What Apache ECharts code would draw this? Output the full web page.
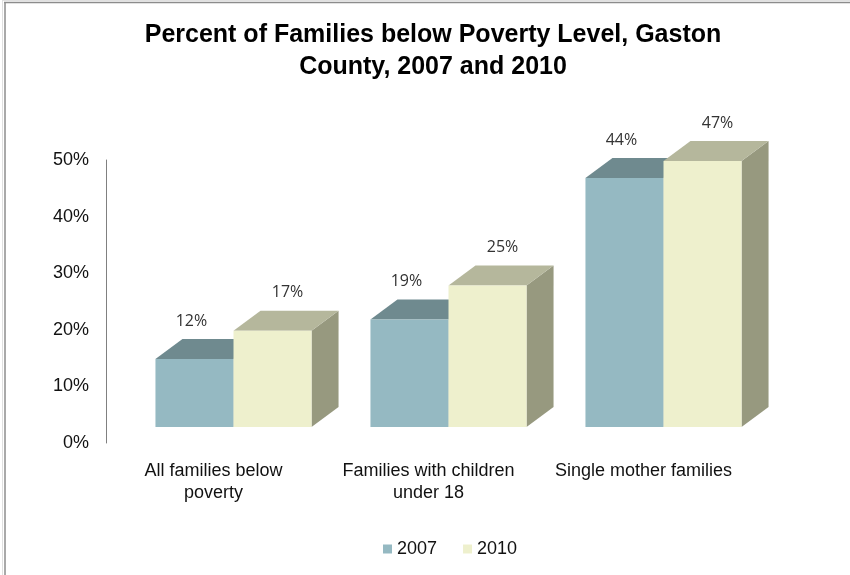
<!DOCTYPE html>
<html>
<head>
<meta charset="utf-8">
<script src="https://cdn.jsdelivr.net/npm/echarts@6/dist/echarts.min.js"></script>
<style>html,body{margin:0;padding:0;background:#fff;}#main{width:850px;height:575px;}</style>
</head>
<body>
<div id="main"></div>
<script>
// ---- data ----
const categories = ["All families below\npoverty", "Families with children\nunder 18", "Single mother families"];
const years = ["2007", "2010"];
const values2007 = [12, 19, 44];
const values2010 = [17, 25, 47];
const yTicks = [0, 10, 20, 30, 40, 50];

// ---- style ----
const COLORS = {
  "2007": { front: "#95B9C2", top: "#6F8A8F", side: "#7A979E" },
  "2010": { front: "#EEF0CD", top: "#B5B79C", side: "#97997F" }
};
const SHIFT_X = 20, SHIFT_Y = -16;   // 3D projection offset of the bar floor
const DEPTH_X = 27, DEPTH_Y = 20;    // bar depth
const BAR_RATIO = 0.363;             // bar width / category band
const LABEL_DX = [-3, 15];
const LABEL_DY = 38;

function makeRender(si) {
  const c = COLORS[years[si]];
  return function (params, api) {
    const cat = api.value(0), v = api.value(1);
    const base = api.coord([cat, 0]);
    const top = api.coord([cat, v]);
    const bw = api.size([1, 0])[0] * BAR_RATIO;
    const cx = base[0] + SHIFT_X;
    const x0 = si === 0 ? cx - bw : cx;
    const x1 = x0 + bw;
    const yb = base[1] + SHIFT_Y;
    const yt = top[1] + SHIFT_Y;
    return {
      type: 'group',
      children: [
        { type: 'polygon', shape: { points: [[x1, yt], [x1 + DEPTH_X, yt - DEPTH_Y], [x1 + DEPTH_X, yb - DEPTH_Y], [x1, yb]] }, style: { fill: c.side } },
        { type: 'polygon', shape: { points: [[x0, yt], [x0 + DEPTH_X, yt - DEPTH_Y], [x1 + DEPTH_X, yt - DEPTH_Y], [x1, yt]] }, style: { fill: c.top } },
        { type: 'rect', shape: { x: x0, y: yt, width: bw, height: yb - yt }, style: { fill: c.front } },
        { type: 'text', style: { x: (x0 + x1) / 2 + LABEL_DX[si], y: yt - LABEL_DY, text: v + '%', fill: '#333', font: '16px "Open Sans"', align: 'center', verticalAlign: 'middle' } }
      ]
    };
  };
}

const chart = echarts.init(document.getElementById('main'), null, { renderer: 'canvas' });
chart.setOption({
  animation: false,
  backgroundColor: '#fff',
  title: {
    text: 'Percent of Families below Poverty Level, Gaston\nCounty, 2007 and 2010',
    left: 433, top: 19, padding: 0, textAlign: 'center',
    textStyle: { fontFamily: 'Liberation Sans', fontSize: 25, fontWeight: 'bold', color: '#000', lineHeight: 32 }
  },
  legend: {
    data: years, left: 383, top: 540, padding: 0, itemWidth: 9, itemHeight: 9, itemGap: 26, icon: 'rect',
    textStyle: { fontFamily: 'Liberation Sans', fontSize: 18, color: '#111' }
  },
  grid: { left: 106, top: 160, width: 645, height: 283, containLabel: false },
  xAxis: {
    type: 'category', data: categories,
    axisLine: { show: false }, axisTick: { show: false },
    axisLabel: { margin: 17, fontFamily: 'Liberation Sans', fontSize: 18, color: '#111', lineHeight: 22, interval: 0 }
  },
  yAxis: {
    type: 'value', min: 0, max: 50, interval: 10,
    axisLine: { show: true, lineStyle: { color: '#808080', width: 1 } },
    axisTick: { show: false }, splitLine: { show: false },
    axisLabel: { margin: 17, fontFamily: 'Liberation Sans', fontSize: 18, color: '#111', formatter: v => v + '%' }
  },
  graphic: [
    { type: 'line', shape: { x1: 2, y1: 0.5, x2: 850, y2: 0.5 }, style: { stroke: '#E0E0E0', lineWidth: 1 } },
    { type: 'line', shape: { x1: 2.5, y1: 1, x2: 2.5, y2: 575 }, style: { stroke: '#E0E0E0', lineWidth: 1 } },
    { type: 'line', shape: { x1: 4, y1: 2.5, x2: 850, y2: 2.5 }, style: { stroke: '#8C8C8C', lineWidth: 1.5 } },
    { type: 'line', shape: { x1: 5, y1: 2, x2: 5, y2: 575 }, style: { stroke: '#8C8C8C', lineWidth: 1.5 } }
  ],
  series: [
    { name: '2007', type: 'custom', renderItem: makeRender(0), itemStyle: { color: COLORS['2007'].front },
      encode: { x: 0, y: 1 }, data: values2007.map((v, i) => [i, v]), z: 2 },
    { name: '2010', type: 'custom', renderItem: makeRender(1), itemStyle: { color: COLORS['2010'].front },
      encode: { x: 0, y: 1 }, data: values2010.map((v, i) => [i, v]), z: 3 }
  ]
});
</script>
</body>
</html>
